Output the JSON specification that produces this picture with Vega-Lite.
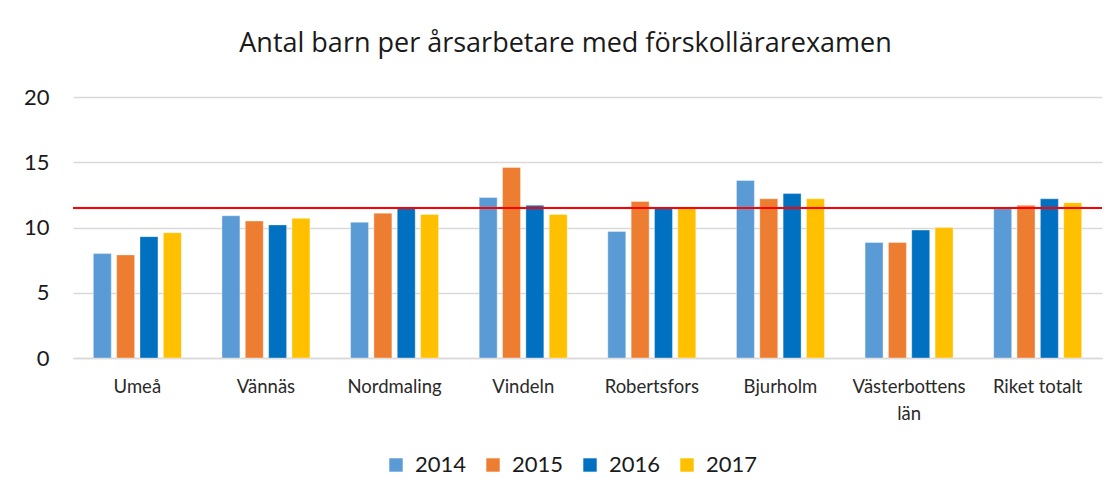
{
  "$schema": "https://vega.github.io/schema/vega-lite/v6.json",
  "width": 1029,
  "height": 261,
  "autosize": {"type": "none"},
  "padding": {"left": 73, "top": 97, "right": 10, "bottom": 134},
  "background": "white",
  "title": {
    "text": "Antal barn per årsarbetare med förskollärarexamen",
    "font": "Open Sans",
    "fontSize": 27,
    "fontWeight": "normal",
    "color": "#1a1a1a",
    "anchor": "middle",
    "dx": -22,
    "offset": 28
  },
  "data": {
    "values": [
      {"kommun": "Umeå", "year": "2014", "value": 8.0},
      {"kommun": "Umeå", "year": "2015", "value": 7.9},
      {"kommun": "Umeå", "year": "2016", "value": 9.3},
      {"kommun": "Umeå", "year": "2017", "value": 9.6},
      {"kommun": "Vännäs", "year": "2014", "value": 10.9},
      {"kommun": "Vännäs", "year": "2015", "value": 10.5},
      {"kommun": "Vännäs", "year": "2016", "value": 10.2},
      {"kommun": "Vännäs", "year": "2017", "value": 10.7},
      {"kommun": "Nordmaling", "year": "2014", "value": 10.4},
      {"kommun": "Nordmaling", "year": "2015", "value": 11.1},
      {"kommun": "Nordmaling", "year": "2016", "value": 11.5},
      {"kommun": "Nordmaling", "year": "2017", "value": 11.0},
      {"kommun": "Vindeln", "year": "2014", "value": 12.3},
      {"kommun": "Vindeln", "year": "2015", "value": 14.6},
      {"kommun": "Vindeln", "year": "2016", "value": 11.7},
      {"kommun": "Vindeln", "year": "2017", "value": 11.0},
      {"kommun": "Robertsfors", "year": "2014", "value": 9.7},
      {"kommun": "Robertsfors", "year": "2015", "value": 12.0},
      {"kommun": "Robertsfors", "year": "2016", "value": 11.5},
      {"kommun": "Robertsfors", "year": "2017", "value": 11.5},
      {"kommun": "Bjurholm", "year": "2014", "value": 13.6},
      {"kommun": "Bjurholm", "year": "2015", "value": 12.2},
      {"kommun": "Bjurholm", "year": "2016", "value": 12.6},
      {"kommun": "Bjurholm", "year": "2017", "value": 12.2},
      {"kommun": "Västerbottens län", "year": "2014", "value": 8.85},
      {"kommun": "Västerbottens län", "year": "2015", "value": 8.85},
      {"kommun": "Västerbottens län", "year": "2016", "value": 9.8},
      {"kommun": "Västerbottens län", "year": "2017", "value": 10.0},
      {"kommun": "Riket totalt", "year": "2014", "value": 11.5},
      {"kommun": "Riket totalt", "year": "2015", "value": 11.7},
      {"kommun": "Riket totalt", "year": "2016", "value": 12.2},
      {"kommun": "Riket totalt", "year": "2017", "value": 11.9}
    ]
  },
  "layer": [
    {
      "mark": {"type": "bar", "stroke": "white", "strokeWidth": 0.6, "strokeOpacity": 0.6},
      "encoding": {
        "x": {
          "field": "kommun",
          "type": "nominal",
          "sort": null,
          "scale": {"paddingInner": 0.316, "paddingOuter": 0.158},
          "axis": {
            "title": null,
            "labelAngle": 0,
            "labelFont": "Lato",
            "labelFontSize": 18.5,
            "labelColor": "#2a2a2a",
            "labelPadding": 19,
            "labelLineHeight": 27,
            "labelExpr": "datum.label == 'Västerbottens län' ? ['Västerbottens', 'län'] : datum.label",
            "ticks": false,
            "domain": true,
            "domainColor": "#d9d9d9",
            "domainWidth": 1.5,
            "grid": false
          }
        },
        "xOffset": {
          "field": "year",
          "type": "nominal",
          "scale": {"paddingInner": 0.23, "paddingOuter": 0}
        },
        "y": {
          "field": "value",
          "type": "quantitative",
          "scale": {"domain": [0, 20]},
          "axis": {
            "title": null,
            "values": [0, 5, 10, 15, 20],
            "labelFont": "Lato",
            "labelFontSize": 22,
            "labelColor": "#1a1a1a",
            "labelPadding": 24,
            "ticks": false,
            "domain": false,
            "grid": true,
            "gridColor": "#d9d9d9",
            "gridWidth": 1.5
          }
        },
        "color": {
          "field": "year",
          "type": "nominal",
          "scale": {
            "domain": ["2014", "2015", "2016", "2017"],
            "range": ["#5B9BD5", "#ED7D31", "#0070C0", "#FFC000"]
          },
          "legend": {
            "title": null,
            "orient": "none",
            "direction": "horizontal",
            "legendX": 312,
            "legendY": 357,
            "symbolType": "square",
            "symbolSize": 180,
            "symbolStrokeWidth": 0,
            "labelFont": "Lato",
            "labelFontSize": 22,
            "labelColor": "#1a1a1a",
            "labelOffset": 8,
            "columnPadding": 15
          }
        }
      }
    },
    {
      "data": {"values": [{"ref": 11.5}]},
      "mark": {"type": "rule", "color": "#FF0000", "strokeWidth": 2},
      "encoding": {
        "y": {"field": "ref", "type": "quantitative"}
      }
    }
  ],
  "config": {
    "view": {"stroke": null}
  }
}
